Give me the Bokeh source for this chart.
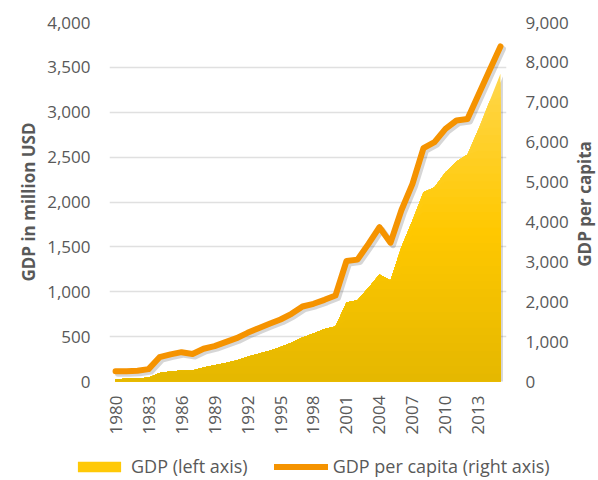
import numpy as np
from math import pi
from bokeh.plotting import figure
from bokeh.layouts import column, row
from bokeh.models import (Range1d, LinearAxis, FixedTicker, NumeralTickFormatter,
                          Legend, LegendItem)
from bokeh.embed import file_html
from bokeh.resources import INLINE

# ---------------- data ----------------
years = list(range(1980, 2016))
gdp_million_usd = [25, 30, 35, 42, 95, 112, 122, 122, 155, 182,
                   205, 234, 275, 308, 342, 385, 432, 490, 535, 585,
                   613, 880, 905, 1044, 1192, 1125, 1500, 1793, 2109, 2165,
                   2332, 2451, 2529, 2810, 3120, 3428]
gdp_per_capita = [255, 258, 270, 310, 610, 680, 735, 690, 820, 886,
                  986, 1086, 1220, 1337, 1446, 1554, 1697, 1880, 1948, 2048,
                  2156, 3020, 3055, 3451, 3869, 3480, 4300, 4956, 5850, 6000,
                  6335, 6543, 6580, 7190, 7797, 8400]
year_ticks = list(range(1980, 2014, 3))
left_ticks = list(range(0, 4001, 500))
right_ticks = list(range(0, 9001, 1000))
series_labels = ["GDP (left axis)", "GDP per capita (right axis)"]
axis_titles = ["GDP in million USD", "GDP per capita"]

# ---------------- styling ----------------
FONT = "Open Sans"
TXT = "#595959"
LINE_C = "#F59300"
PAGE_W = 598
RT_W = 27                 # strip holding the right axis title
W, H = PAGE_W - RT_W, 445
LEG_H = 35
BL, BR, BT, BB = 109, 63, 22, 64
X0, X1 = 1979.45, 2015.55
L0, L1 = 0, 4000
R0, R1 = 0, 9000

fw, fh = W - BL - BR, H - BT - BB
xpx = (X1 - X0) / fw
lpx = (L1 - L0) / fh
rpx = (R1 - R0) / fh
d = 2.5  # shadow offset in px

p = figure(width=W, height=H, x_range=Range1d(X0, X1), y_range=Range1d(L0, L1),
           output_backend="svg", toolbar_location=None,
           min_border_left=BL, min_border_right=BR, min_border_top=BT, min_border_bottom=BB,
           outline_line_color=None, background_fill_color="white", border_fill_color="white")

p.extra_y_ranges = {
    "right": Range1d(R0, R1),
    "right_sh": Range1d(R0 + d * rpx, R1 + d * rpx),
    "left_sh": Range1d(L0 + d * lpx, L1 + d * lpx),
}
p.extra_x_ranges = {"x_sh": Range1d(X0 - d * xpx, X1 - d * xpx)}

# grid
p.xgrid.visible = False
p.ygrid.ticker = FixedTicker(ticks=left_ticks)
p.ygrid.grid_line_color = "#e0e0e0"
p.ygrid.grid_line_width = 1.5

# ---------------- area with vertical gradient ----------------
gdp = np.array(gdp_million_usd, dtype=float)
x = np.array(years, dtype=float)

p.varea(x=x, y1=0, y2=gdp, x_range_name="x_sh", y_range_name="left_sh",
        fill_color="#000000", fill_alpha=0.16)

top_c = np.array([255, 214, 72])
mid_c = np.array([255, 200, 0])
bot_c = np.array([228, 183, 0])

def grad(t):
    if t >= 0.5:
        c = mid_c + (top_c - mid_c) * (t - 0.5) / 0.5
    else:
        c = bot_c + (mid_c - bot_c) * t / 0.5
    c = np.clip(np.round(c), 0, 255).astype(int)
    return "#%02x%02x%02x" % tuple(c)

gmax = gdp.max()
n = 40
for k in range(n):
    h = gmax * (1 - k / n)
    t = h / gmax
    p.varea(x=x, y1=0, y2=np.minimum(gdp, h), fill_color=grad(t))

# ---------------- line ----------------
p.line(x, gdp_per_capita, x_range_name="x_sh", y_range_name="right_sh",
       line_color="#000000", line_alpha=0.16, line_width=6,
       line_join="round", line_cap="round")
p.line(x, gdp_per_capita, y_range_name="right", line_color=LINE_C,
       line_width=6, line_join="round", line_cap="round")

# ---------------- axes ----------------
def style_axis(ax):
    ax.axis_line_color = None
    ax.major_tick_line_color = None
    ax.minor_tick_line_color = None
    ax.major_tick_in = 0
    ax.major_tick_out = 0
    ax.minor_tick_in = 0
    ax.minor_tick_out = 0
    ax.major_label_text_font = FONT
    ax.major_label_text_font_size = "17px"
    ax.major_label_text_color = TXT
    ax.axis_label_text_font = FONT
    ax.axis_label_text_font_size = "17px"
    ax.axis_label_text_font_style = "bold"
    ax.axis_label_text_color = TXT

ly = p.yaxis[0]
style_axis(ly)
ly.ticker = FixedTicker(ticks=left_ticks)
ly.formatter = NumeralTickFormatter(format="0,0")
ly.major_label_standoff = 19
ly.axis_label = axis_titles[0]
ly.axis_label_standoff = 4

ry = LinearAxis(y_range_name="right")
style_axis(ry)
ry.ticker = FixedTicker(ticks=right_ticks)
ry.formatter = NumeralTickFormatter(format="0,0")
ry.major_label_standoff = 19
p.add_layout(ry, "right")

xa = p.xaxis[0]
style_axis(xa)
xa.ticker = FixedTicker(ticks=year_ticks)
xa.formatter = NumeralTickFormatter(format="0")
xa.major_label_orientation = pi / 2
xa.major_label_standoff = 14

# ---------------- right axis title strip (reads bottom-to-top) ----------------
rt = figure(width=RT_W, height=H, x_range=Range1d(0, 1), y_range=Range1d(R0, R1),
            output_backend="svg", toolbar_location=None,
            min_border_left=RT_W - 1, min_border_right=0, min_border_top=BT, min_border_bottom=60,
            outline_line_color=None, background_fill_color="white", border_fill_color="white")
if "frame_align" in rt.properties():
    rt.frame_align = False
rt.xaxis.visible = False
rt.grid.visible = False
rya = rt.yaxis[0]
style_axis(rya)
rya.ticker = FixedTicker(ticks=[])
rya.axis_label = axis_titles[1]
rya.axis_label_standoff = 3

# ---------------- legend strip (own small figure under the chart) ----------------
lg = figure(width=PAGE_W, height=LEG_H, x_range=Range1d(0, 1), y_range=Range1d(0, 1),
            output_backend="svg", toolbar_location=None,
            min_border_left=0, min_border_right=0, min_border_top=0, min_border_bottom=0,
            outline_line_color=None, background_fill_color="white", border_fill_color="white")
if "frame_align" in lg.properties():
    lg.frame_align = False
lg.axis.visible = False
lg.grid.visible = False
# same series, drawn outside this strip's ranges: only their legend swatches show
sw_area = lg.varea(x=x, y1=0, y2=gdp, fill_color=grad(0.55))
sw_line = lg.line(x=x, y=gdp_per_capita, line_color=LINE_C, line_width=6, line_cap="round")
legend = Legend(items=[LegendItem(label=series_labels[0], renderers=[sw_area]),
                       LegendItem(label=series_labels[1], renderers=[sw_line])],
                orientation="horizontal", location=(72, 2),
                glyph_width=54, glyph_height=13, label_standoff=5, spacing=26,
                padding=0, margin=0, border_line_color=None, background_fill_alpha=0,
                label_text_font=FONT, label_text_font_size="18px", label_text_color=TXT)
lg.add_layout(legend, "center")

layout = column(row(p, rt, spacing=0), lg, spacing=0)
open("out.html", "w").write(file_html(layout, INLINE))
